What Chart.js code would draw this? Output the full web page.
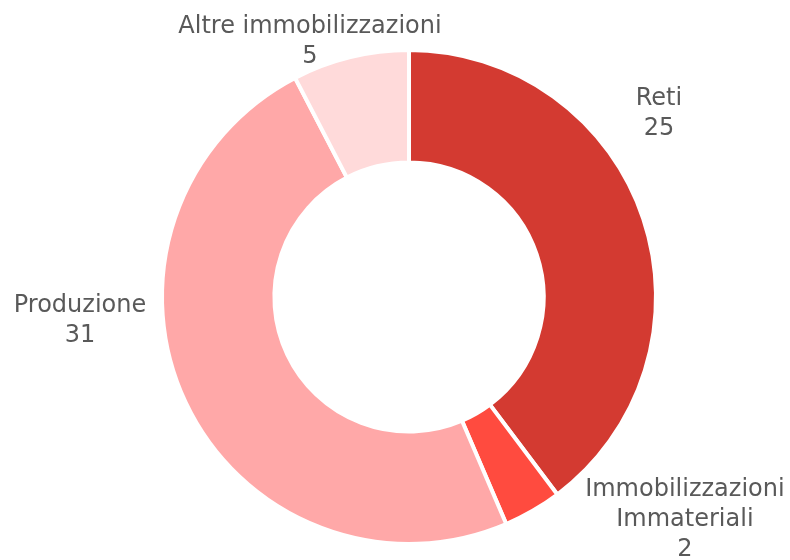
<!DOCTYPE html>
<html>
<head>
<meta charset="utf-8">
<script src="https://cdn.jsdelivr.net/npm/chart.js@4.4.1/dist/chart.umd.min.js"></script>
<style>
  html, body { margin: 0; padding: 0; background: #ffffff; }
  #wrap { width: 790px; height: 560px; }
</style>
</head>
<body>
<div id="wrap"><canvas id="c" width="790" height="560"></canvas></div>
<script>
// Data
const categories = ["Reti", "Immobilizzazioni Immateriali", "Produzione", "Altre immobilizzazioni"];
const labelLines = [["Reti"], ["Immobilizzazioni", "Immateriali"], ["Produzione"], ["Altre immobilizzazioni"]];
const values = [25, 2.4, 30.7, 4.8];
const colors = ["#D33A31", "#FF4B3F", "#FFA8A8", "#FFDADA"];

// Label anchor offsets relative to centre, in units of outer radius (layout only)
const labelOffsets = [[1.012, -0.741], [1.117, 0.902], [-1.332, 0.097], [-0.401, -1.035]];

const labelPlugin = {
  id: 'outerLabels',
  afterDatasetsDraw(chart) {
    const ctx = chart.ctx;
    const meta = chart.getDatasetMeta(0);
    const lineH = 30;
    ctx.save();
    ctx.font = '24px "DejaVu Sans"';
    ctx.fillStyle = '#595959';
    ctx.textAlign = 'center';
    ctx.textBaseline = 'middle';
    meta.data.forEach((arc, i) => {
      const p = arc.getProps(['x', 'y', 'outerRadius'], true);
      const lines = labelLines[i].concat([String(Math.round(values[i]))]);
      const cx = p.x + labelOffsets[i][0] * p.outerRadius;
      const cy = p.y + labelOffsets[i][1] * p.outerRadius;
      const top = cy - (lines.length - 1) * lineH / 2;
      lines.forEach((t, k) => ctx.fillText(t, cx, top + k * lineH));
    });
    ctx.restore();
  }
};

new Chart(document.getElementById('c'), {
  type: 'doughnut',
  data: {
    labels: categories,
    datasets: [{
      data: values,
      backgroundColor: colors,
      borderColor: '#ffffff',
      borderWidth: 4
    }]
  },
  options: {
    responsive: false,
    animation: false,
    cutout: '54.5%',
    layout: { padding: { top: 48, bottom: 14, left: 28, right: 0 } },
    plugins: { legend: { display: false }, tooltip: { enabled: false } }
  },
  plugins: [labelPlugin]
});
</script>
</body>
</html>
